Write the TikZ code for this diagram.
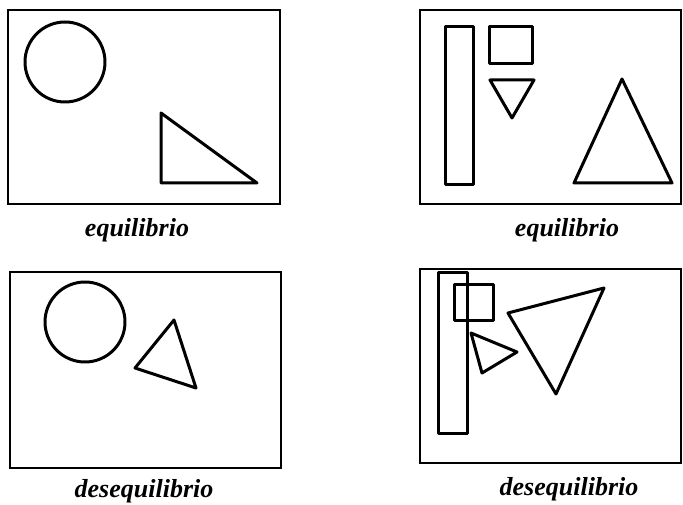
\documentclass[tikz,border=0pt]{standalone}
\usepackage{fontspec}
\setmainfont{Liberation Serif}
\usepackage{tikz}
\usetikzlibrary{calc}

\begin{document}
\begin{tikzpicture}[
		x=1pt, y=-1pt,
		frame/.style = {draw=black, line width=2.6pt},
		fig/.style = {draw=black, line width=3pt, line join=round},
		lbl/.style = {font=\bfseries\itshape\fontsize{26}{28}\selectfont, inner sep=0pt}
		]
		\useasboundingbox (0, 0) rectangle (683, 505);
		
		%Frames
		\draw[frame]	(8, 10)		rectangle	(280, 204);
		\draw[frame]	(420, 10)	rectangle	(681, 204);
		\draw[frame]	(10, 272)	rectangle	(281, 468);
		\draw[frame]	(420, 269)	rectangle	(681, 463);
		
		%Shapes top left
		\draw[fig]	(65, 62) circle (40);
		\draw[fig]	(161, 113) -- (161, 183) -- (257, 183) -- cycle;
		
		%Shapes top right
		\draw[fig]	(445, 27) rectangle (473, 185);
		\draw[fig]	(489, 27) rectangle (532, 64);
		\draw[fig]	(490, 80) -- (534, 80) -- (512, 118) -- cycle;
		\draw[fig]	(622, 79) -- (574, 183) -- (672, 183) -- cycle;
		
		%Shapes bottom left
		\draw[fig]	(85, 322) circle (40);
		\draw[fig]	(174, 320) -- (135, 368) -- (196, 388) -- cycle;
		
		%Shapes bottom right
		\draw[fig]	(438, 273) rectangle (467, 433);
		\draw[fig]	(454, 285) rectangle (493, 320);
		\draw[fig]	(471, 333) -- (517, 352) -- (482, 373) -- cycle;
		\draw[fig]	(508, 313) -- (604, 288) -- (556, 394) -- cycle;
		
		%Labels
		\node[lbl]	(eq1)	at	(137, 230)	{equilibrio};
		\node[lbl]	(eq2)	at	(567, 230)	{equilibrio};
		\node[lbl]	(des1)	at	(144, 491)	{desequilibrio};
		\node[lbl]	(des2)	at	(569, 489)	{desequilibrio};
	\end{tikzpicture}
\end{document}
